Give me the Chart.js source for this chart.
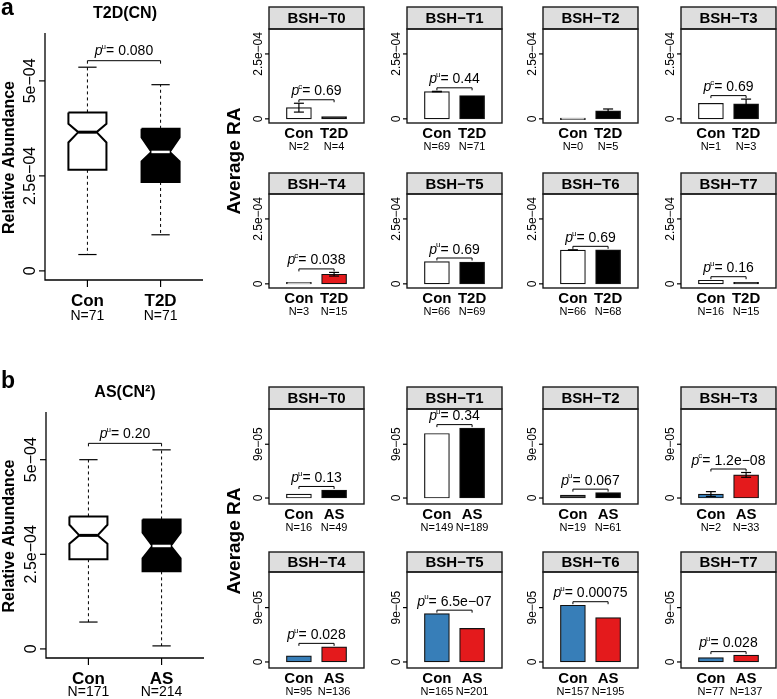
<!DOCTYPE html>
<html>
<head>
<meta charset="utf-8">
<script src="https://cdn.jsdelivr.net/npm/chart.js@4.4.1/dist/chart.umd.min.js"></script>
<style>
  html, body { margin: 0; padding: 0; background: #fff; }
  #fig { position: relative; width: 777px; height: 699px; overflow: hidden; }
  #fig canvas { position: absolute; left: 0; top: 0; }
</style>
</head>
<body>
<div id="fig"></div>
<script>
// ============================================================
//  BSH abundance figure – boxplots + per-type average RA bars
// ============================================================

const GENES    = ['BSH−T0', 'BSH−T1', 'BSH−T2', 'BSH−T3', 'BSH−T4', 'BSH−T5', 'BSH−T6', 'BSH−T7'];
const GROUPS_A = ['Con', 'T2D'];
const GROUPS_B = ['Con', 'AS'];

// boxplot summaries [Con, case]
const BOX_A_WLO = [0.43e-4, 0.95e-4];
const BOX_A_Q1  = [2.66e-4, 2.34e-4];
const BOX_A_NLO = [3.38e-4, 2.88e-4];
const BOX_A_MED = [3.65e-4, 3.13e-4];
const BOX_A_NHI = [3.87e-4, 3.51e-4];
const BOX_A_Q3  = [4.17e-4, 3.74e-4];
const BOX_A_WHI = [5.36e-4, 4.90e-4];
const BOX_A_N   = [71, 71];

const BOX_B_WLO = [0.71e-4, 0.08e-4];
const BOX_B_Q1  = [2.37e-4, 2.05e-4];
const BOX_B_NLO = [2.78e-4, 2.39e-4];
const BOX_B_MED = [3.00e-4, 2.72e-4];
const BOX_B_NHI = [3.28e-4, 3.07e-4];
const BOX_B_Q3  = [3.50e-4, 3.42e-4];
const BOX_B_WHI = [5.00e-4, 5.26e-4];
const BOX_B_N   = [171, 214];

const BOX_TICKS  = [0, 2.5e-4, 5e-4];
const BOX_LABELS = ['0', '2.5e−04', '5e−04'];

// average RA per BSH type (panel a: Con vs T2D)
const MEAN_A_CON = [0.43e-4, 1.05e-4, 0, 0.60e-4, 0.06e-4, 0.86e-4, 1.30e-4, 0.14e-4];
const MEAN_A_T2D = [0.09e-4, 0.90e-4, 0.31e-4, 0.58e-4, 0.37e-4, 0.84e-4, 1.31e-4, 0.05e-4];
const SE_A_CON   = [0.17e-4, 0.01e-4, 0, 0, 0, 0, 0.01e-4, 0];
const SE_A_T2D   = [0, 0, 0.07e-4, 0.18e-4, 0.07e-4, 0, 0, 0];
const N_A_CON    = [2, 69, 0, 1, 3, 66, 66, 16];
const N_A_T2D    = [4, 71, 5, 3, 15, 69, 68, 15];
const P_A        = ['0.69', '0.44', null, '0.69', '0.038', '0.69', '0.69', '0.16'];
const TEST_A     = ['c', 'u', null, 'c', 'c', 'u', 'u', 'u'];
const TICKS_A    = [0, 2.5e-4];
const LABELS_A   = ['0', '2.5e−04'];

// average RA per BSH type (panel b: Con vs AS)
const MEAN_B_CON = [0.67e-5, 10.8e-5, 0.5e-5, 0.67e-5, 1.0e-5, 8.0e-5, 9.4e-5, 0.72e-5];
const MEAN_B_AS  = [1.35e-5, 11.7e-5, 0.9e-5, 3.87e-5, 2.5e-5, 5.55e-5, 7.35e-5, 1.13e-5];
const SE_B_CON   = [0, 0, 0, 0.4e-5, 0, 0, 0, 0];
const SE_B_AS    = [0, 0, 0, 0.4e-5, 0, 0, 0, 0];
const N_B_CON    = [16, 149, 19, 2, 95, 165, 157, 77];
const N_B_AS     = [49, 189, 61, 33, 136, 201, 195, 137];
const P_B        = ['0.13', '0.34', '0.067', '1.2e−08', '0.028', '6.5e−07', '0.00075', '0.028'];
const TEST_B     = ['u', 'u', 'u', 'c', 'u', 'u', 'u', 'u'];
const TICKS_B    = [0, 9e-5];
const LABELS_B   = ['0', '9e−05'];

// ---------------------------------------------------------------
// colours / layout
// ---------------------------------------------------------------
const RED = '#E41A1C', BLUE = '#377EB8';
const FILL_A_CON = ['#fff', '#fff', '#fff', '#fff', '#fff', '#fff', '#fff', '#fff'];
const FILL_A_T2D = ['#000', '#000', '#000', '#000', RED, '#000', '#000', '#000'];
const FILL_B_CON = ['#fff', '#fff', '#4d4d4d', BLUE, BLUE, BLUE, BLUE, BLUE];
const FILL_B_AS  = ['#000', '#000', '#000', RED, RED, RED, RED, RED];

const W = 777, H = 699;
const FF = '"Liberation Sans", Arial, Helvetica, sans-serif';
const COL_X = [269, 407, 543, 681];
const PANEL_W = 95;
const ROWS_A = [{strip: 7, top: 29, bottom: 123}, {strip: 173, top: 194, bottom: 288}];
const ROWS_B = [{strip: 387, top: 409, bottom: 504}, {strip: 552, top: 572, bottom: 668}];

const fig = document.getElementById('fig');

function newCanvas() {
  const c = document.createElement('canvas');
  c.width = W; c.height = H;
  fig.appendChild(c);
  return c;
}

// ---------------------------------------------------------------
// Helpers de texto
// ---------------------------------------------------------------
function txt(ctx, s, x, y, font, rot) {
  ctx.save();
  ctx.translate(x, y);
  if (rot) ctx.rotate(rot);
  ctx.font = font;
  ctx.fillStyle = '#000';
  ctx.textAlign = 'center';
  ctx.textBaseline = 'middle';
  ctx.fillText(s, 0, 0);
  ctx.restore();
}

function pText(ctx, cx, cy, test, val, size) {
  const fp = `italic ${size}px ${FF}`;
  const fs = `${Math.round(size * 0.6)}px ${FF}`;
  const fv = `${size}px ${FF}`;
  const rest = '= ' + val;
  ctx.save();
  ctx.fillStyle = '#000';
  ctx.font = fp; const wp = ctx.measureText('p').width;
  ctx.font = fs; const ws = ctx.measureText(test).width;
  ctx.font = fv; const wr = ctx.measureText(rest).width;
  let x = cx - (wp + ws + wr - 1) / 2;
  const base = cy + size * 0.36;
  ctx.textAlign = 'left';
  ctx.textBaseline = 'alphabetic';
  ctx.font = fp; ctx.fillText('p', x, base); x += wp - 1;
  ctx.font = fs; ctx.fillText(test, x, base - size * 0.45); x += ws;
  ctx.font = fv; ctx.fillText(rest, x, base);
  ctx.restore();
}

function line(ctx, pts, lw, color, dash) {
  ctx.save();
  ctx.strokeStyle = color || '#000';
  ctx.lineWidth = lw;
  ctx.setLineDash(dash || []);
  ctx.beginPath();
  pts.forEach((p, i) => i ? ctx.lineTo(p[0], p[1]) : ctx.moveTo(p[0], p[1]));
  ctx.stroke();
  ctx.restore();
}

// ---------------------------------------------------------------
// Paneles de barras
// ---------------------------------------------------------------
function drawPanel(chart, o) {
  const ctx = chart.ctx, a = chart.chartArea;
  const xs = chart.scales.x, ys = chart.scales.y;
  const w = a.right - a.left;

  // strip
  ctx.save();
  ctx.fillStyle = '#dedede';
  ctx.fillRect(a.left, o.strip, w, a.top - o.strip);
  ctx.strokeStyle = '#1a1a1a';
  ctx.lineWidth = 1.4;
  ctx.strokeRect(a.left, o.strip, w, a.top - o.strip);
  ctx.strokeRect(a.left, a.top, w, a.bottom - a.top);
  ctx.restore();
  txt(ctx, o.gene, a.left + w / 2, (o.strip + a.top) / 2 + 1, `bold 15px ${FF}`);

  // error bars
  o.means.forEach((m, i) => {
    if (!o.ses[i]) return;
    const px = xs.getPixelForValue(i + 1);
    const yh = ys.getPixelForValue(m + o.ses[i]);
    const yl = ys.getPixelForValue(Math.max(0, m - o.ses[i]));
    line(ctx, [[px, yh], [px, yl]], 1.2);
    line(ctx, [[px - 5, yh], [px + 5, yh]], 1.2);
    line(ctx, [[px - 5, yl], [px + 5, yl]], 1.2);
  });

  // y axis
  o.ticks.forEach((t, i) => {
    const py = ys.getPixelForValue(t);
    line(ctx, [[a.left - 4, py], [a.left, py]], 1.2);
    txt(ctx, o.tickLabels[i], a.left - 10, py, `12px ${FF}`, -Math.PI / 2);
  });

  // x labels
  o.groups.forEach((g, i) => {
    const px = xs.getPixelForValue(i + 1);
    txt(ctx, g, px, a.bottom + 11, `bold 15px ${FF}`);
    txt(ctx, 'N=' + o.ns[i], px, a.bottom + 23.5, `11px ${FF}`);
  });

  // comparison bracket
  if (o.p) {
    const tops = o.means.map((m, i) => ys.getPixelForValue(m + o.ses[i]));
    const by = Math.min(...tops) - 3.5;
    const x0 = xs.getPixelForValue(1), x1 = xs.getPixelForValue(2);
    line(ctx, [[x0, by + 2.5], [x0, by], [x1, by], [x1, by + 2.5]], 1);
    pText(ctx, (x0 + x1) / 2, by - 9.5, o.test, o.p, 14);
  }
}

function barPanel(o) {
  return new Chart(newCanvas(), {
    type: 'bar',
    data: {
      datasets: [{
        data: o.means.map((v, i) => ({x: i + 1, y: v})),
        backgroundColor: o.fills,
        borderColor: '#111',
        borderWidth: 1.2,
        borderSkipped: false,
        barThickness: 25,
        minBarLength: 1.5
      }]
    },
    options: {
      responsive: false,
      animation: false,
      devicePixelRatio: 1,
      events: [],
      layout: {padding: {left: o.x, top: o.top, right: W - o.x - PANEL_W, bottom: H - o.bottom}},
      plugins: {legend: {display: false}, tooltip: {enabled: false}},
      scales: {
        x: {type: 'linear', display: false, min: 0.15, max: 2.85, offset: false},
        y: {type: 'linear', display: false, min: o.yMin, max: o.yMax}
      }
    },
    plugins: [{id: 'decor', afterDraw: c => drawPanel(c, o)}]
  });
}

// ---------------------------------------------------------------
// Boxplots
// ---------------------------------------------------------------
function drawBoxDecor(chart, o) {
  const ctx = chart.ctx, a = chart.chartArea;
  const xs = chart.scales.x, ys = chart.scales.y;

  line(ctx, [[a.left, a.top], [a.left, a.bottom], [a.right, a.bottom]], 1.3);
  BOX_TICKS.forEach((t, i) => {
    const py = ys.getPixelForValue(t);
    line(ctx, [[a.left - 6, py], [a.left, py]], 1.2);
    txt(ctx, BOX_LABELS[i], a.left - 14, py, `16px ${FF}`, -Math.PI / 2);
  });
  o.groups.forEach((g, i) => {
    const px = xs.getPixelForValue(i + 1);
    line(ctx, [[px, a.bottom], [px, a.bottom + 7]], 1.2);
    txt(ctx, g, px, a.bottom + 21, `bold 17px ${FF}`);
    txt(ctx, 'N=' + o.n[i], px, a.bottom + o.nOff, `14px ${FF}`);
  });

  const by = Math.min(...o.whi.map(v => ys.getPixelForValue(v))) - 6.5;
  const x0 = xs.getPixelForValue(1), x1 = xs.getPixelForValue(2);
  line(ctx, [[x0, by + 3], [x0, by], [x1, by], [x1, by + 3]], 1);
  pText(ctx, (x0 + x1) / 2, by - 10.5, o.test, o.p, 14);

  txt(ctx, o.title, 125, o.titleY, `bold 16px ${FF}`);
  txt(ctx, 'Relative Abundance', 10, (a.top + a.bottom) / 2 + 1, `bold 16px ${FF}`, -Math.PI / 2);
  txt(ctx, 'Average RA', 235, o.avgY, `bold 19px ${FF}`, -Math.PI / 2);
  ctx.save();
  ctx.font = `bold 23px ${FF}`;
  ctx.textBaseline = 'middle';
  ctx.fillText(o.letter, 1, o.letterY);
  ctx.restore();
}

function boxPanel(o) {
  const HW = 0.26, NW = 0.125, CW = 0.125;
  const ds = [];
  o.groups.forEach((g, i) => {
    const c = i + 1;
    const q1 = o.q1[i], q3 = o.q3[i], med = o.med[i], nlo = o.nlo[i], nhi = o.nhi[i];
    ds.push({
      data: [[c - HW, q3], [c + HW, q3], [c + HW, nhi], [c + NW, med], [c + HW, nlo], [c + HW, q1],
             [c - HW, q1], [c - HW, nlo], [c - NW, med], [c - HW, nhi], [c - HW, q3]]
             .map(p => ({x: p[0], y: p[1]})),
      fill: 'shape', backgroundColor: o.fills[i], borderColor: '#000', borderWidth: 2, order: 1
    });
    ds.push({
      data: [{x: c - NW, y: med}, {x: c + NW, y: med}],
      borderColor: o.medColors[i], borderWidth: i ? 2.5 : 3, order: 0
    });
    ds.push({data: [{x: c, y: q3}, {x: c, y: o.whi[i]}], borderColor: '#000', borderWidth: 1, borderDash: [3, 3], order: 2});
    ds.push({data: [{x: c, y: q1}, {x: c, y: o.wlo[i]}], borderColor: '#000', borderWidth: 1, borderDash: [3, 3], order: 2});
    ds.push({data: [{x: c - CW, y: o.whi[i]}, {x: c + CW, y: o.whi[i]}], borderColor: '#000', borderWidth: 1.2, order: 2});
    ds.push({data: [{x: c - CW, y: o.wlo[i]}, {x: c + CW, y: o.wlo[i]}], borderColor: '#000', borderWidth: 1.2, order: 2});
  });

  return new Chart(newCanvas(), {
    type: 'line',
    data: {datasets: ds},
    options: {
      responsive: false,
      animation: false,
      devicePixelRatio: 1,
      events: [],
      elements: {point: {radius: 0}, line: {tension: 0}},
      layout: {padding: {left: o.left, top: o.top, right: W - o.right, bottom: H - o.bottom}},
      plugins: {legend: {display: false}, tooltip: {enabled: false}},
      scales: {
        x: {type: 'linear', display: false, min: 0.42, max: 2.58},
        y: {type: 'linear', display: false, min: -0.24e-4, max: 6.26e-4}
      }
    },
    plugins: [{id: 'boxDecor', afterDraw: c => drawBoxDecor(c, o)}]
  });
}

// ---------------------------------------------------------------
// Construcción
// ---------------------------------------------------------------
boxPanel({
  left: 45, top: 33, right: 203, bottom: 280, nOff: 36,
  groups: GROUPS_A, n: BOX_A_N,
  wlo: BOX_A_WLO, q1: BOX_A_Q1, nlo: BOX_A_NLO, med: BOX_A_MED, nhi: BOX_A_NHI, q3: BOX_A_Q3, whi: BOX_A_WHI,
  fills: ['#fff', '#000'], medColors: ['#000', '#fff'],
  p: '0.080', test: 'u', title: 'T2D(CN)', titleY: 14, letter: 'a', letterY: 9, avgY: 161
});

boxPanel({
  left: 46, top: 412, right: 204, bottom: 658, nOff: 34,
  groups: GROUPS_B, n: BOX_B_N,
  wlo: BOX_B_WLO, q1: BOX_B_Q1, nlo: BOX_B_NLO, med: BOX_B_MED, nhi: BOX_B_NHI, q3: BOX_B_Q3, whi: BOX_B_WHI,
  fills: ['#fff', '#000'], medColors: ['#000', '#fff'],
  p: '0.20', test: 'u', title: 'AS(CN²)', titleY: 393, letter: 'b', letterY: 382, avgY: 541
});

GENES.forEach((gene, k) => {
  const col = k % 4, row = Math.floor(k / 4);
  const ra = ROWS_A[row], rb = ROWS_B[row];
  barPanel({
    x: COL_X[col], strip: ra.strip, top: ra.top, bottom: ra.bottom, gene,
    groups: GROUPS_A, means: [MEAN_A_CON[k], MEAN_A_T2D[k]], ses: [SE_A_CON[k], SE_A_T2D[k]],
    ns: [N_A_CON[k], N_A_T2D[k]], p: P_A[k], test: TEST_A[k],
    fills: [FILL_A_CON[k], FILL_A_T2D[k]],
    yMin: -0.16e-4, yMax: 3.46e-4, ticks: TICKS_A, tickLabels: LABELS_A
  });
  barPanel({
    x: COL_X[col], strip: rb.strip, top: rb.top, bottom: rb.bottom, gene,
    groups: GROUPS_B, means: [MEAN_B_CON[k], MEAN_B_AS[k]], ses: [SE_B_CON[k], SE_B_AS[k]],
    ns: [N_B_CON[k], N_B_AS[k]], p: P_B[k], test: TEST_B[k],
    fills: [FILL_B_CON[k], FILL_B_AS[k]],
    yMin: -1.0e-5, yMax: 14.9e-5, ticks: TICKS_B, tickLabels: LABELS_B
  });
});
</script>
</body>
</html>
